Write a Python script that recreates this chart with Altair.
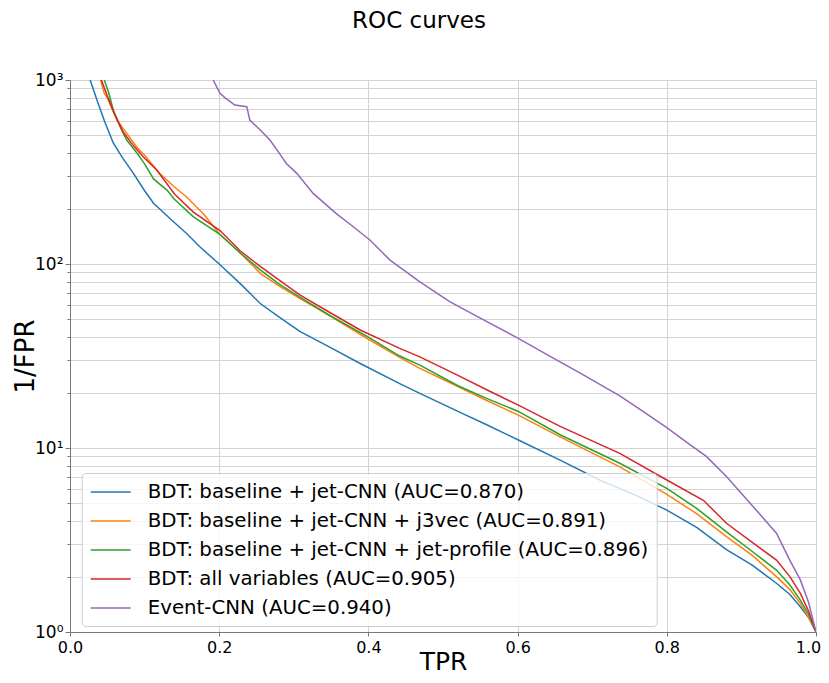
import altair as alt
import pandas as pd

series_names = [
    "BDT: baseline + jet-CNN (AUC=0.870)",
    "BDT: baseline + jet-CNN + j3vec (AUC=0.891)",
    "BDT: baseline + jet-CNN + jet-profile (AUC=0.896)",
    "BDT: all variables (AUC=0.905)",
    "Event-CNN (AUC=0.940)",
]
series_colors = ["#1f77b4", "#ff7f0e", "#2ca02c", "#d62728", "#9467bd"]

blue_tpr = [0.027, 0.036, 0.046, 0.058, 0.070, 0.085, 0.100, 0.112, 0.135, 0.156, 0.174, 0.200, 0.230,
            0.255, 0.280, 0.308, 0.350, 0.389, 0.442, 0.469, 0.520, 0.560, 0.601, 0.657, 0.710, 0.760,
            0.800, 0.840, 0.880, 0.915, 0.947, 0.965, 0.979, 0.990, 1.0]
blue_inv_fpr = [1000, 780, 600, 455, 380, 311, 250, 214, 175, 147, 124, 100, 77,
                61, 51.6, 43, 35, 28.8, 22.4, 19.8, 15.8, 13.3, 11.05, 8.6, 6.7, 5.5,
                4.6, 3.7, 2.8, 2.3, 1.84, 1.6, 1.37, 1.2, 1.0]

orange_tpr = [0.041, 0.046, 0.050, 0.063, 0.076, 0.090, 0.100, 0.120, 0.140, 0.156, 0.180, 0.200, 0.230,
              0.255, 0.280, 0.308, 0.350, 0.400, 0.442, 0.469, 0.520, 0.560, 0.601, 0.657, 0.737, 0.800,
              0.840, 0.880, 0.915, 0.947, 0.965, 0.979, 0.990, 1.0]
orange_inv_fpr = [1000, 845, 800, 606, 513, 430, 390, 311, 262, 232, 185, 146, 113,
                  89, 76, 65, 51.8, 39, 31.1, 27.1, 21.6, 18.0, 15.1, 11.5, 7.9, 5.6,
                  4.4, 3.3, 2.6, 2.0, 1.7, 1.43, 1.2, 1.0]

green_tpr = [0.046, 0.052, 0.058, 0.067, 0.076, 0.090, 0.100, 0.112, 0.130, 0.140, 0.165, 0.200, 0.230,
             0.255, 0.280, 0.308, 0.350, 0.400, 0.442, 0.469, 0.520, 0.560, 0.601, 0.657, 0.737, 0.800,
             0.840, 0.880, 0.915, 0.947, 0.965, 0.979, 0.990, 1.0]
green_inv_fpr = [1000, 850, 687, 560, 472, 400, 350, 290, 252, 225, 181, 146, 113,
                 93, 78, 66, 52, 40, 31.6, 28.2, 21.8, 18.5, 15.8, 11.8, 8.26, 6.03,
                 4.7, 3.5, 2.73, 2.17, 1.8, 1.49, 1.25, 1.0]

red_tpr = [0.042, 0.050, 0.060, 0.071, 0.085, 0.098, 0.116, 0.140, 0.165, 0.201, 0.228, 0.255, 0.280,
           0.308, 0.350, 0.389, 0.442, 0.469, 0.520, 0.560, 0.601, 0.657, 0.737, 0.800, 0.849, 0.880,
           0.915, 0.947, 0.965, 0.979, 0.990, 1.0]
red_inv_fpr = [1000, 820, 650, 523, 440, 383, 325, 240, 192, 152, 118, 97, 82,
               68, 54, 43.8, 34.8, 31.3, 24.8, 20.6, 17.1, 13.1, 9.35, 6.7, 5.2, 3.9,
               3.06, 2.46, 2.0, 1.62, 1.3, 1.0]

purple_tpr = [0.192, 0.201, 0.208, 0.221, 0.237, 0.241, 0.255, 0.268, 0.280, 0.290, 0.304, 0.326, 0.357,
              0.375, 0.402, 0.429, 0.469, 0.509, 0.550, 0.601, 0.640, 0.684, 0.737, 0.770, 0.800, 0.830,
              0.853, 0.880, 0.912, 0.930, 0.947, 0.965, 0.979, 0.990, 1.0]
purple_inv_fpr = [1000, 846, 800, 731, 716, 606, 535, 472, 403, 352, 311, 242, 188,
                  165, 135, 105, 80, 62.4, 50.8, 39.4, 32.1, 25.5, 19.2, 15.6, 12.9, 10.5,
                  9.0, 7.0, 5.0, 4.13, 3.44, 2.45, 1.92, 1.45, 1.0]

y_tick_values = [1, 2, 3, 4, 5, 6, 7, 8, 9, 10, 20, 30, 40, 50, 60, 70, 80, 90,
                 100, 200, 300, 400, 500, 600, 700, 800, 900, 1000]
x_tick_values = [0.0, 0.2, 0.4, 0.6, 0.8, 1.0]

all_tpr = [blue_tpr, orange_tpr, green_tpr, red_tpr, purple_tpr]
all_inv = [blue_inv_fpr, orange_inv_fpr, green_inv_fpr, red_inv_fpr, purple_inv_fpr]

rows = []
for k, (name, tprs, invs) in enumerate(zip(series_names, all_tpr, all_inv)):
    for i, (t, v) in enumerate(zip(tprs, invs)):
        rows.append({"series": name, "tpr": t, "inv_fpr": v, "idx": i, "k": k})
df = pd.DataFrame(rows)

FONT = "DejaVu Sans"

label_expr = ("datum.value == 1 ? '10⁰' : datum.value == 10 ? '10¹' : "
              "datum.value == 100 ? '10²' : datum.value == 1000 ? '10³' : ''")

chart = alt.Chart(df).mark_line(strokeWidth=1.5, clip=True).encode(
    x=alt.X("tpr:Q",
            scale=alt.Scale(domain=[0, 1], nice=False, zero=False),
            axis=alt.Axis(values=x_tick_values, format=".1f", title="TPR",
                          labelFontSize=16, titleFontSize=25, titleFontWeight="normal",
                          tickSize=4, labelPadding=3, labelFlush=False, labelOverlap=False,
                          labelOffset={"condition": {"test": "datum.value == 1", "value": -8}, "value": 0},
                          grid=True, gridColor="#d3d3d3", domainColor="#777777", tickColor="#777777",
                          labelColor="black", titleColor="black",
                          titleBaseline="alphabetic", titleY=37, labelFont=FONT, titleFont=FONT)),
    y=alt.Y("inv_fpr:Q",
            scale=alt.Scale(type="log", domain=[1, 1000], nice=False),
            axis=alt.Axis(values=y_tick_values, labelExpr=label_expr, title="1/FPR",
                          labelFontSize=17, titleFontSize=26, titleFontWeight="normal",
                          tickSize={"condition": {"test": "indexof([1,10,100,1000], datum.value) >= 0", "value": 5}, "value": 3},
                          labelPadding=2, labelFlush=False, labelOverlap=False,
                          grid=True, gridColor="#d3d3d3", domainColor="#777777", tickColor="#777777",
                          labelColor="black", titleColor="black",
                          titleBaseline="alphabetic", titleX=-37, labelFont=FONT, titleFont=FONT)),
    color=alt.Color("series:N",
                    scale=alt.Scale(domain=series_names, range=series_colors),
                    legend=alt.Legend(title=None, orient="none", legendX=11.7, legendY=393,
                                      symbolType="M-1,0H3", symbolSize=400, symbolStrokeWidth=1.5,
                                      labelOffset=36, labelFontSize=19.8, labelFont=FONT,
                                      labelColor="black", labelLimit=700,
                                      rowPadding=8, padding=8,
                                      fillColor="rgba(255,255,255,0.8)", strokeColor="#cccccc",
                                      cornerRadius=4)),
    detail="k:N",
    order="idx:Q",
).properties(
    width=746,
    height=552,
    title=alt.TitleParams("ROC curves", fontSize=23, fontWeight="normal", font=FONT,
                          color="black", anchor="middle", dx=-24, offset=38),
    autosize=alt.AutoSizeParams(type="none"),
    padding={"left": 62, "top": 72, "right": 5, "bottom": 43},
).configure_view(
    stroke="#777777", strokeWidth=1
).configure(background="white")

chart.save("out.html", embed_options={"renderer": "svg", "actions": False})
